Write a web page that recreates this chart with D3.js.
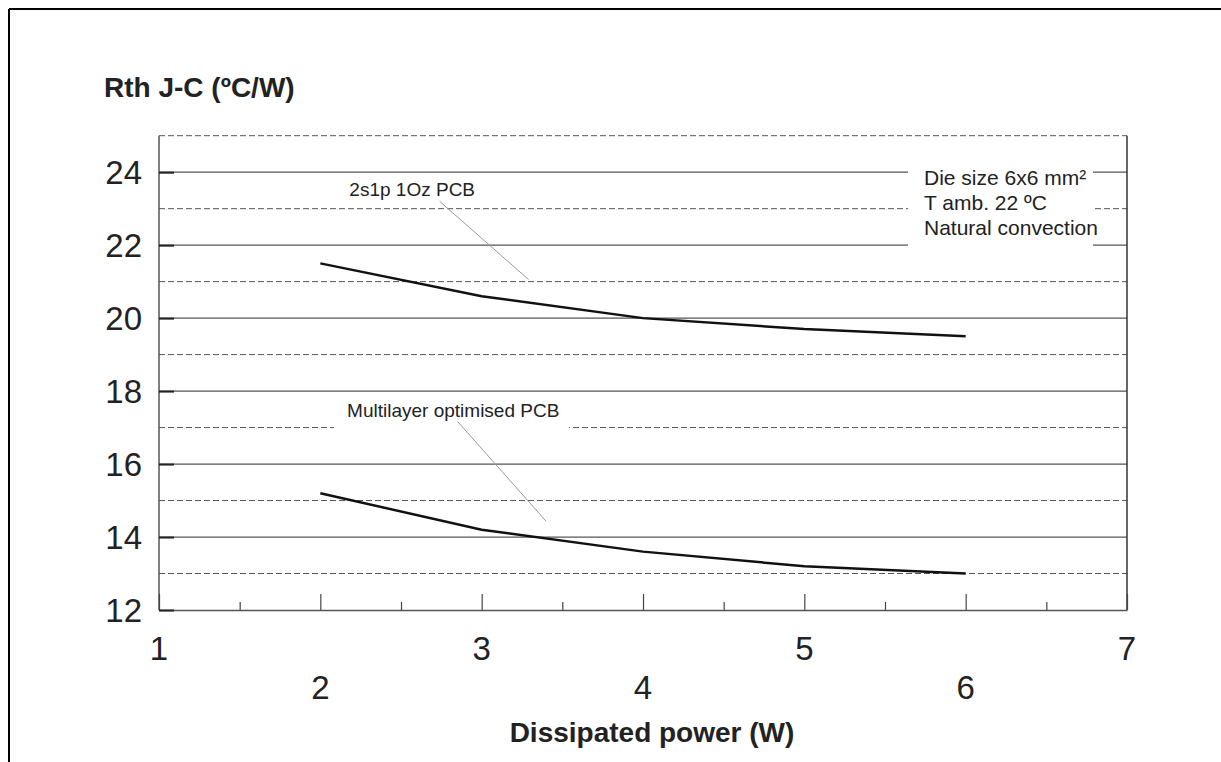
<!DOCTYPE html>
<html>
<head>
<meta charset="utf-8">
<script src="https://cdn.jsdelivr.net/npm/d3@7"></script>
<style>
  body { margin: 0; background: #fff; }
  svg { font-family: "Liberation Sans", Arial, sans-serif; }
</style>
</head>
<body>
<div id="chart"></div>
<script>
// values
var powerW = [2, 3, 4, 5, 6];
var rth2s1p = [21.5, 20.6, 20.0, 19.7, 19.5];
var rthMultilayer = [15.2, 14.2, 13.6, 13.2, 13.0];
var xMajorTicks = [1, 2, 3, 4, 5, 6, 7];
var xMinorTicks = [1.5, 2.5, 3.5, 4.5, 5.5, 6.5];
var yLabelTicks = [12, 14, 16, 18, 20, 22, 24];
var ySolidGrid = [14, 16, 18, 20, 22, 24];
var yDashedGrid = [13, 15, 17, 19, 21, 23, 25];
var noteLines = ["Die size 6x6 mm\u00b2", "T amb. 22 \u00baC", "Natural convection"];

var W = 1221, H = 762;
var margin = {top: 135.7, right: 94, bottom: 152, left: 159};
var width = W - margin.left - margin.right;
var height = H - margin.top - margin.bottom;

var svg = d3.select("#chart").append("svg")
  .attr("width", W)
  .attr("height", H);

// outer frame of the figure (only top and left are visible)
svg.append("line").attr("x1", 9).attr("x2", W).attr("y1", 9).attr("y2", 9)
  .attr("stroke", "#000").attr("stroke-width", 2);
svg.append("line").attr("x1", 9).attr("x2", 9).attr("y1", 9).attr("y2", H)
  .attr("stroke", "#000").attr("stroke-width", 2);

var g = svg.append("g")
  .attr("transform", "translate(" + margin.left + "," + margin.top + ")");

var x = d3.scaleLinear().domain([1, 7]).range([0, width]);
var y = d3.scaleLinear().domain([12, 25]).range([height, 0]);

// grid
g.selectAll(".grid-solid").data(ySolidGrid).enter().append("line")
  .attr("class", "grid-solid")
  .attr("x1", 0).attr("x2", width)
  .attr("y1", d => y(d)).attr("y2", d => y(d))
  .attr("stroke", "#555").attr("stroke-width", 1.2);

g.selectAll(".grid-dash").data(yDashedGrid).enter().append("line")
  .attr("class", "grid-dash")
  .attr("x1", 0).attr("x2", width)
  .attr("y1", d => y(d)).attr("y2", d => y(d))
  .attr("stroke", "#555").attr("stroke-width", 1)
  .attr("stroke-dasharray", "6,3");

// white boxes that cut the grid behind the annotations
g.append("rect")
  .attr("x", 908 - margin.left).attr("y", 158 - margin.top)
  .attr("width", 185).attr("height", 100)
  .attr("fill", "#fff");
g.append("rect")
  .attr("x", 334 - margin.left).attr("y", 400 - margin.top)
  .attr("width", 235).attr("height", 38)
  .attr("fill", "#fff");

// plot box: left, right, bottom
g.append("line").attr("x1", 0).attr("x2", 0).attr("y1", 0).attr("y2", height)
  .attr("stroke", "#555").attr("stroke-width", 1.5);
g.append("line").attr("x1", width).attr("x2", width).attr("y1", 0).attr("y2", height)
  .attr("stroke", "#333").attr("stroke-width", 1.5);

// x axis, ticks pointing up into the plot
var xAxis = g.append("g")
  .attr("class", "x-axis")
  .attr("transform", "translate(0," + height + ")")
  .call(d3.axisBottom(x).tickValues(xMajorTicks).tickSize(-16).tickSizeOuter(0).tickFormat(""));
xAxis.select(".domain").attr("stroke", "#555").attr("stroke-width", 1.5);
xAxis.selectAll(".tick line").attr("stroke", "#444").attr("stroke-width", 1.2);

g.append("g")
  .attr("transform", "translate(0," + height + ")")
  .call(d3.axisBottom(x).tickValues(xMinorTicks).tickSize(-8).tickFormat(""))
  .call(a => a.select(".domain").remove())
  .selectAll(".tick line").attr("stroke", "#444").attr("stroke-width", 1.2);

// x labels on two rows: odd values up, even values down
g.selectAll(".xlabel").data(xMajorTicks).enter().append("text")
  .attr("class", "xlabel")
  .attr("x", d => x(d))
  .attr("y", d => height + (d % 2 === 1 ? 50 : 89))
  .attr("text-anchor", "middle")
  .attr("font-size", 33)
  .attr("fill", "#222")
  .text(d => d);

// y axis: short inward ticks and labels
var yAxis = g.append("g")
  .attr("class", "y-axis")
  .call(d3.axisRight(y).tickValues(yLabelTicks).tickSize(15).tickFormat(""));
yAxis.select(".domain").remove();
yAxis.selectAll(".tick line").attr("stroke", "#222").attr("stroke-width", 2);

g.selectAll(".ylabel").data(yLabelTicks).enter().append("text")
  .attr("class", "ylabel")
  .attr("x", -17)
  .attr("y", d => y(d) + 12)
  .attr("text-anchor", "end")
  .attr("font-size", 33)
  .attr("fill", "#222")
  .text(d => d);

// curves
var line = d3.line()
  .x((d, i) => x(powerW[i]))
  .y(d => y(d));

g.append("path").datum(rth2s1p)
  .attr("d", line)
  .attr("fill", "none").attr("stroke", "#111").attr("stroke-width", 2.5);
g.append("path").datum(rthMultilayer)
  .attr("d", line)
  .attr("fill", "none").attr("stroke", "#111").attr("stroke-width", 2.5);

// curve labels with leader lines
g.append("line")
  .attr("x1", x(2.74)).attr("y1", y(23.2))
  .attr("x2", x(3.29)).attr("y2", y(21.06))
  .attr("stroke", "#999").attr("stroke-width", 1);
g.append("text")
  .attr("x", x(2.18)).attr("y", y(23.4) + 2)
  .attr("font-size", 19).attr("fill", "#222")
  .text("2s1p 1Oz PCB");

g.append("line")
  .attr("x1", x(2.85)).attr("y1", y(17.17))
  .attr("x2", x(3.4)).attr("y2", y(14.43))
  .attr("stroke", "#999").attr("stroke-width", 1);
g.append("text")
  .attr("x", x(2.166)).attr("y", y(17.28))
  .attr("font-size", 19).attr("fill", "#222")
  .text("Multilayer optimised PCB");

// conditions note
g.selectAll(".note").data(noteLines).enter().append("text")
  .attr("class", "note")
  .attr("x", 924 - margin.left)
  .attr("y", (d, i) => 185 - margin.top + i * 25)
  .attr("font-size", 21).attr("fill", "#222")
  .text(d => d);

// axis titles
svg.append("text")
  .attr("x", 104).attr("y", 97)
  .attr("font-size", 28).attr("font-weight", "bold").attr("fill", "#222")
  .text("Rth J-C (\u00baC/W)");

svg.append("text")
  .attr("x", 652).attr("y", 742)
  .attr("text-anchor", "middle")
  .attr("font-size", 28).attr("font-weight", "bold").attr("fill", "#222")
  .text("Dissipated power (W)");
</script>
</body>
</html>
